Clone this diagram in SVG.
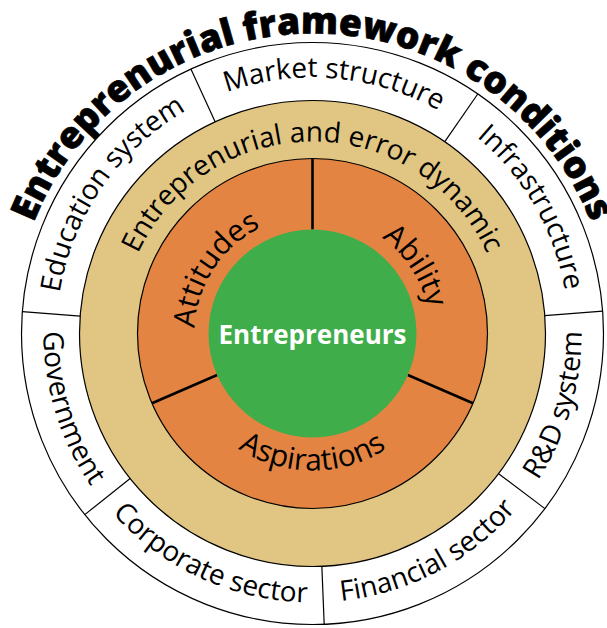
<svg xmlns="http://www.w3.org/2000/svg" xmlns:xlink="http://www.w3.org/1999/xlink" width="607" height="628" viewBox="0 0 607 628">
<style>
.lbl{font-family:"Open Sans","Noto Sans","Liberation Sans",sans-serif;font-size:28px;fill:#000;}
.lbl2{font-family:"Open Sans","Noto Sans","Liberation Sans",sans-serif;font-size:30px;fill:#000;}
.ttl{font-family:"Open Sans","Noto Sans","Liberation Sans",sans-serif;font-size:37px;font-weight:800;fill:#000;stroke:#000;stroke-width:0.7;}
.ring{stroke:#000;stroke-width:1.2;}
.div{stroke:#000;stroke-width:1.2;fill:none;}
.div2{stroke:#000;stroke-width:2.6;fill:none;}
</style>
<defs>
<path id="pTitle" d="M 12.5 333.5 A 300 300 0 0 1 612.5 333.5"/>
<path id="pOutTop" d="M 56.5 333.5 A 256 256 0 0 1 568.5 333.5"/>
<path id="pOutBot" d="M 43.5 333.5 A 269 269 0 0 0 581.5 333.5"/>
<path id="pTanTop" d="M 120.5 333.5 A 192 192 0 0 1 504.5 333.5"/>
<path id="pOrTop" d="M 194.5 333.5 A 118 118 0 0 1 430.5 333.5"/>
<path id="pOrBot" d="M 175.5 333.5 A 137 137 0 0 0 449.5 333.5"/>
</defs>
<rect width="607" height="628" fill="#fff"/>
<g id="title">
<text class="ttl" text-anchor="middle"><textPath xlink:href="#pTitle" href="#pTitle" startOffset="50%">Entreprenurial framework conditions</textPath></text>
</g>
<g id="framework-ring">
<circle class="ring" cx="312.5" cy="333.5" r="291" fill="#fff"/>
</g>
<g id="dynamic-ring">
<circle class="ring" cx="312.5" cy="333.5" r="233" fill="#E1C583"/>
</g>
<g id="ability-ring">
<circle class="ring" cx="312.5" cy="333.5" r="175" fill="#E38442"/>
</g>
<g id="connectors">
<line class="div" x1="80.15" y1="316.03" x2="22.32" y2="311.68"/>
<line class="div" x1="215.14" y1="121.82" x2="190.9" y2="69.12"/>
<line class="div" x1="444.81" y1="141.71" x2="477.74" y2="93.97"/>
<line class="div" x1="544.81" y1="315.62" x2="602.64" y2="311.17"/>
<line class="div" x1="498.58" y1="473.72" x2="544.9" y2="508.63"/>
<line class="div" x1="321.85" y1="566.31" x2="324.18" y2="624.26"/>
<line class="div" x1="130.15" y1="478.54" x2="84.76" y2="514.65"/>
<line class="div2" x1="312.5" y1="229.5" x2="312.5" y2="158.5"/>
<line class="div2" x1="407.87" y1="374.97" x2="472.99" y2="403.28"/>
<line class="div2" x1="217.13" y1="374.97" x2="152.01" y2="403.28"/>
</g>
<g id="entrepreneurs">
<circle cx="312.5" cy="333.5" r="104" fill="#3FAD4A"/>
<text x="312.5" y="344" text-anchor="middle" style="font-family:'Open Sans','Noto Sans','Liberation Sans',sans-serif;font-size:26px;font-weight:700;fill:#fff">Entrepreneurs</text>
</g>
<g id="education-system"><text class="lbl" text-anchor="middle" transform="rotate(-55.2 312.5 333.5)"><textPath xlink:href="#pOutTop" href="#pOutTop" startOffset="50%">Education system</textPath></text></g>
<g id="market-structure"><text class="lbl" text-anchor="middle" transform="rotate(4.95 312.5 333.5)"><textPath xlink:href="#pOutTop" href="#pOutTop" startOffset="50%">Market structure</textPath></text></g>
<g id="infrastructure"><text class="lbl" text-anchor="middle" transform="rotate(60.1 312.5 333.5)"><textPath xlink:href="#pOutTop" href="#pOutTop" startOffset="50%">Infrastructure</textPath></text></g>
<g id="rd-system"><text class="lbl" text-anchor="middle" transform="rotate(-73.7 312.5 333.5)"><textPath xlink:href="#pOutBot" href="#pOutBot" startOffset="50%">R&amp;D system</textPath></text></g>
<g id="financial-sector"><text class="lbl" text-anchor="middle" transform="rotate(-27.65 312.5 333.5)"><textPath xlink:href="#pOutBot" href="#pOutBot" startOffset="50%">Financial sector</textPath></text></g>
<g id="corporate-sector"><text class="lbl" text-anchor="middle" transform="rotate(24.6 312.5 333.5)"><textPath xlink:href="#pOutBot" href="#pOutBot" startOffset="50%">Corporate sector</textPath></text></g>
<g id="government"><text class="lbl" text-anchor="middle" transform="rotate(72.9 312.5 333.5)"><textPath xlink:href="#pOutBot" href="#pOutBot" startOffset="50%">Government</textPath></text></g>
<g id="error-dynamic"><text class="lbl" text-anchor="middle"><textPath xlink:href="#pTanTop" href="#pTanTop" startOffset="50%">Entreprenurial and error dynamic</textPath></text></g>
<g id="attitudes"><text class="lbl2" text-anchor="middle" transform="rotate(-56.75 312.5 333.5)"><textPath xlink:href="#pOrTop" href="#pOrTop" startOffset="50%">Attitudes</textPath></text></g>
<g id="ability"><text class="lbl2" text-anchor="middle" transform="rotate(56.75 312.5 333.5)"><textPath xlink:href="#pOrTop" href="#pOrTop" startOffset="50%">Ability</textPath></text></g>
<g id="aspirations"><text class="lbl2" text-anchor="middle"><textPath xlink:href="#pOrBot" href="#pOrBot" startOffset="50%">Aspirations</textPath></text></g>
</svg>
